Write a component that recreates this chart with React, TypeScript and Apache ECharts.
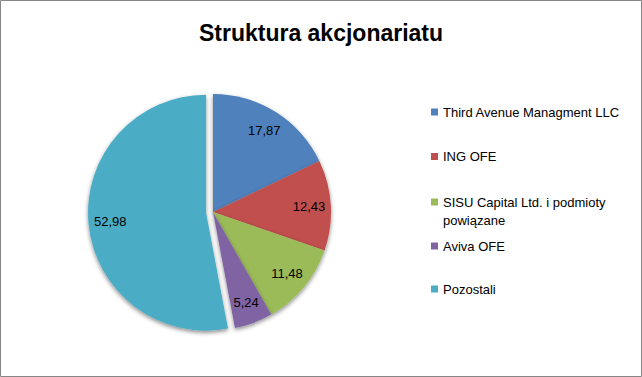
import React, { useEffect, useRef } from "react";
import * as echarts from "echarts";

const categories = [
  "Third Avenue Managment LLC",
  "ING OFE",
  "SISU Capital Ltd. i podmioty powiązane",
  "Aviva OFE",
  "Pozostali",
];
const legendLabels = [
  "Third Avenue Managment LLC",
  "ING OFE",
  "SISU Capital Ltd. i podmioty\npowiązane",
  "Aviva OFE",
  "Pozostali",
];
const values = [17.87, 12.43, 11.48, 5.24, 52.98];
const colors = ["#4F81BD", "#C0504D", "#9BBB59", "#8064A2", "#4BACC6"];
const explodedIndex = 4;
const legendTops = [104, 148.5, 175, 238, 281];

const FONT = "'Liberation Sans', Arial, sans-serif";

export default function App() {
  const ref = useRef<HTMLDivElement>(null);

  useEffect(() => {
    if (!ref.current) return;
    const chart = echarts.init(ref.current, null, { renderer: "svg" });
    const center = [213, 212];
    const R = 118;
    const data = categories.map((name, i) => ({
      name,
      value: values[i],
      selected: i === explodedIndex,
      itemStyle: { color: colors[i] },
    }));
    const labelData = categories.map((name, i) => ({
      name,
      value: values[i],
      selected: i === explodedIndex,
    }));

    const legends = categories.map((name, i) => {
      const isTwo = legendLabels[i].includes("\n");
      return {
        data: [name],
        orient: "vertical",
        left: 431,
        top: legendTops[i],
        padding: 0,
        itemWidth: 7,
        itemHeight: 7,
        icon: "rect",
        selectedMode: false,
        formatter: () => (isTwo ? "\n" + legendLabels[i] : legendLabels[i]),
        textStyle: {
          fontFamily: FONT,
          fontSize: 13,
          color: "#000",
          lineHeight: isTwo ? 18 : 16,
        },
      };
    });

    chart.setOption({
      animation: false,
      color: colors,
      title: {
        text: "Struktura akcjonariatu",
        left: "center",
        top: 16,
        textStyle: {
          fontFamily: FONT,
          fontSize: 23,
          fontWeight: "bold",
          color: "#000",
        },
      },
      legend: legends,
      graphic: [
        {
          type: "rect",
          shape: { x: 0.5, y: 0.5, width: 641, height: 376 },
          style: { fill: "none", stroke: "#868686", lineWidth: 1 },
          silent: true,
        },
      ],
      series: [
        {
          type: "pie",
          center,
          radius: R,
          startAngle: 90,
          clockwise: true,
          selectedMode: "single",
          selectedOffset: 7,
          data,
          label: { show: false },
          labelLine: { show: false },
          emphasis: { disabled: true },
          itemStyle: {
            borderWidth: 0,
            shadowBlur: 4,
            shadowOffsetY: 2,
            shadowColor: "rgba(0,0,0,0.45)",
          },
        },
        {
          type: "pie",
          center,
          radius: [R * 0.58, R],
          startAngle: 90,
          clockwise: true,
          selectedMode: "single",
          selectedOffset: 7,
          silent: true,
          data: labelData,
          itemStyle: { color: "rgba(0,0,0,0)", borderWidth: 0 },
          emphasis: { disabled: true },
          labelLine: { show: false },
          label: {
            show: true,
            position: "inside",
            fontFamily: FONT,
            fontSize: 13,
            color: "#000",
            formatter: (p: any) => p.value.toFixed(2).replace(".", ","),
          },
        },
      ],
    });
    return () => chart.dispose();
  }, []);

  return (
    <div
      ref={ref}
      style={{
        position: "absolute",
        left: 0,
        top: 0,
        width: 642,
        height: 377,
        background: "#fff",
      }}
    />
  );
}
